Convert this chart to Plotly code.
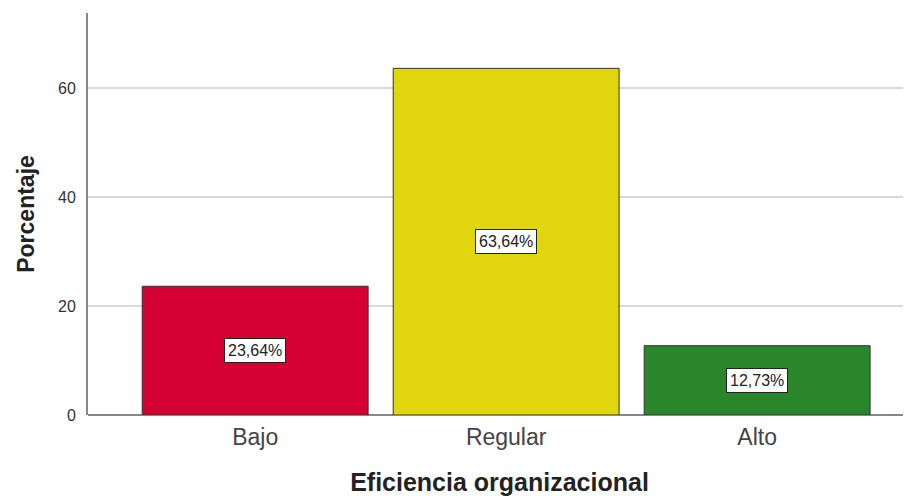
import plotly.graph_objects as go

categories = ["Bajo", "Regular", "Alto"]
values = [23.64, 63.64, 12.73]
colors = ["#D50032", "#E1D60E", "#2A862A"]
labels = ["23,64%", "63,64%", "12,73%"]

FONT = "Arial, Liberation Sans, sans-serif"

fig = go.Figure()
fig.add_trace(go.Bar(
    x=categories, y=values, width=0.9,
    marker=dict(color=colors, line=dict(color="#333333", width=1)),
    hoverinfo="skip",
))

for c, v, t in zip(categories, values, labels):
    fig.add_annotation(
        x=c, y=v / 2, text=t, showarrow=False,
        font=dict(family=FONT, size=16, color="#222222"),
        bgcolor="white", bordercolor="#222222", borderwidth=1, borderpad=3,
    )

fig.update_layout(
    width=911, height=496,
    margin=dict(l=80, r=8, t=5, b=89),
    plot_bgcolor="white", paper_bgcolor="white",
    showlegend=False,
    font=dict(family=FONT),
    xaxis=dict(
        range=[-0.666, 2.613],
        automargin=False,
        showgrid=False, showline=False, zeroline=False,
        ticks="", ticklabelstandoff=6,
        tickfont=dict(family=FONT, size=23, color="#444444"),
        title=dict(text="<b>Eficiencia organizacional</b>",
                   font=dict(family=FONT, size=25, color="#222222"), standoff=24),
    ),
    yaxis=dict(
        range=[0, 73.8],
        automargin=False,
        tickvals=[0, 20, 40, 60],
        showgrid=True, gridcolor="#D9D9D9", gridwidth=2,
        zeroline=True, zerolinecolor="#888888", zerolinewidth=2,
        showline=True, linecolor="#888888", linewidth=2,
        ticks="", ticklabelstandoff=7,
        tickfont=dict(family=FONT, size=16, color="#333333"),
        title=dict(text="<b>Porcentaje</b>",
                   font=dict(family=FONT, size=23, color="#222222"), standoff=17),
    ),
)

fig.write_html("out.html")
